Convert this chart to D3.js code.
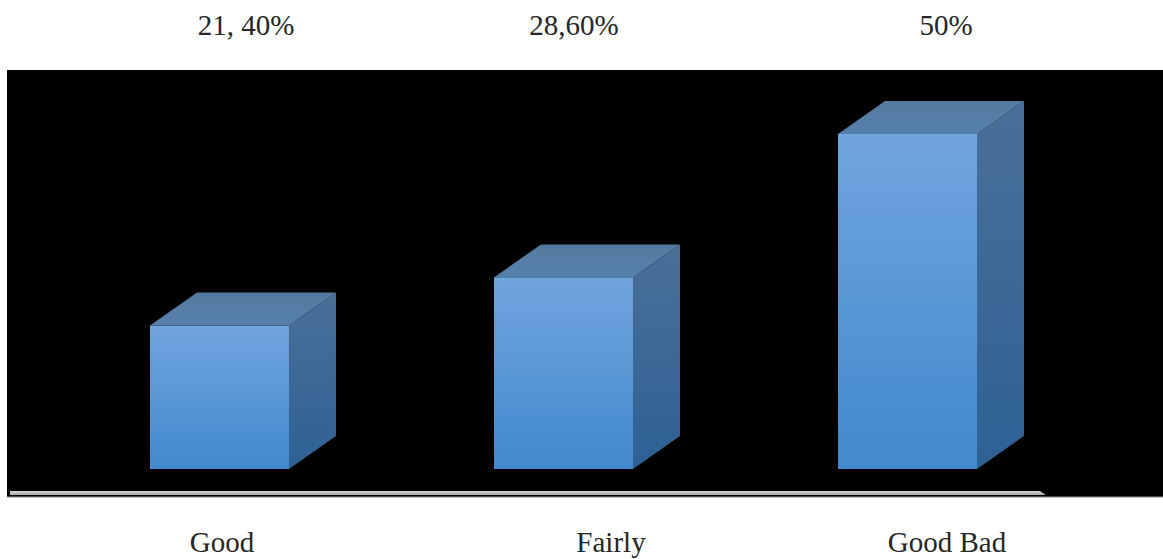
<!DOCTYPE html>
<html>
<head>
<meta charset="utf-8">
<script src="https://cdn.jsdelivr.net/npm/d3@7"></script>
<style>
  html, body { margin: 0; background: #fff; }
  svg { display: block; }
  text { font-family: "Liberation Serif", serif; font-size: 29px; fill: #262626; }
</style>
</head>
<body>
<div id="chart"></div>
<script>
'use strict';

const categories = ["Good", "Fairly", "Good Bad"];
const percentages = [21.4, 28.6, 50];
const percentLabels = ["21, 40%", "28,60%", "50%"];

const width = 1163, height = 559;
const panel = { left: 7, top: 70, bottom: 497 };
const depth = { x: 47, y: -33 };

// the text rows sit a little off the bar centres
const percentLabelX = [246, 574, 946];
const categoryLabelX = [222, 611, 947];

const x = d3.scaleBand()
    .domain(categories)
    .range([150, 977])
    .paddingInner(0.596)
    .paddingOuter(0);

const y = d3.scaleLinear()
    .domain([0, 50])
    .range([469, 134]);

const svg = d3.select("#chart").append("svg")
    .attr("width", width)
    .attr("height", height);

function addGradient(id, from, to) {
    const g = svg.append("defs").append("linearGradient")
        .attr("id", id)
        .attr("x1", 0).attr("x2", 0)
        .attr("y1", 0).attr("y2", 1);
    g.append("stop").attr("offset", "0%").attr("stop-color", from);
    g.append("stop").attr("offset", "100%").attr("stop-color", to);
}
addGradient("front", "#70a5dd", "#4189cd");
addGradient("side", "#4a6f98", "#2e6195");
addGradient("top", "#557a9f", "#5680ac");
addGradient("floor", "#d4d4d4", "#a8a8a8");

svg.append("rect")
    .attr("x", panel.left)
    .attr("y", panel.top)
    .attr("width", width - panel.left)
    .attr("height", panel.bottom - panel.top)
    .attr("fill", "#000");

// thin grey edge under the panel
svg.append("rect")
    .attr("x", panel.left)
    .attr("y", panel.bottom - 0.5)
    .attr("width", width - panel.left)
    .attr("height", 1)
    .attr("fill", "#8a8a8a");

// floor of the 3D plot, the right end is cut at a slant
svg.append("path")
    .attr("d", d3.line()([[10, 491], [1040, 491], [1046, 495], [10, 495]]))
    .attr("fill", "url(#floor)");

const bars = svg.append("g")
    .selectAll("g")
    .data(percentages)
    .join("g");

const corners = (d, i) => ({
    x0: x(categories[i]),
    x1: x(categories[i]) + x.bandwidth(),
    y0: y(d),
    y1: y(0)
});

bars.append("path")
    .attr("fill", "url(#side)")
    .attr("d", (d, i) => {
        const c = corners(d, i);
        return d3.line()([
            [c.x1, c.y0], [c.x1 + depth.x, c.y0 + depth.y],
            [c.x1 + depth.x, c.y1 + depth.y], [c.x1, c.y1]
        ]) + "Z";
    });

bars.append("path")
    .attr("fill", "url(#top)")
    .attr("d", (d, i) => {
        const c = corners(d, i);
        return d3.line()([
            [c.x0, c.y0], [c.x0 + depth.x, c.y0 + depth.y],
            [c.x1 + depth.x, c.y0 + depth.y], [c.x1, c.y0]
        ]) + "Z";
    });

bars.append("rect")
    .attr("fill", "url(#front)")
    .attr("x", (d, i) => x(categories[i]))
    .attr("y", d => y(d))
    .attr("width", x.bandwidth())
    .attr("height", d => y(0) - y(d));

svg.append("g")
    .selectAll("text")
    .data(percentLabels)
    .join("text")
    .attr("x", (d, i) => percentLabelX[i])
    .attr("y", 35)
    .attr("text-anchor", "middle")
    .text(d => d);

svg.append("g")
    .selectAll("text")
    .data(categories)
    .join("text")
    .attr("x", (d, i) => categoryLabelX[i])
    .attr("y", 552)
    .attr("text-anchor", "middle")
    .text(d => d);
</script>
</body>
</html>
